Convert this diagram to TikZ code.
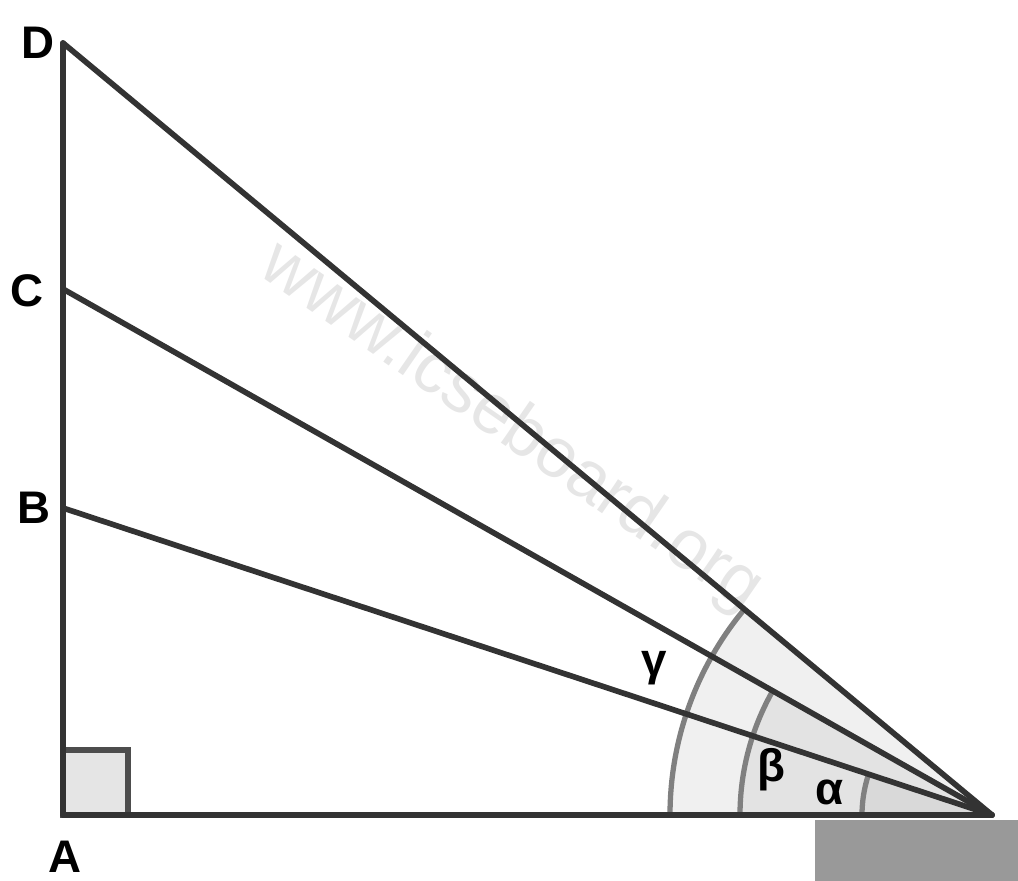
\documentclass[tikz,border=0pt]{standalone}
\usepackage{fontspec}
\setmainfont{Liberation Sans}
\usepackage{tikz}

\definecolor{linegray}{HTML}{333333}
\definecolor{arcgray}{HTML}{808080}
\definecolor{markgray}{HTML}{4D4D4D}
\definecolor{groundgray}{HTML}{999999}
\definecolor{wmgray}{HTML}{E6E6E6}

\begin{document}
\begin{tikzpicture}[
  side/.style={line width=3.2pt, color=linegray, line cap=round},
  arcline/.style={line width=3pt, color=arcgray},
  lbl/.style={font=\bfseries\fontsize{26}{26}\selectfont, inner sep=0pt}
]
\useasboundingbox (0,0) rectangle (20.36,17.62);

% points
\coordinate (A) at (1.26,1.32);
\coordinate (B) at (1.26,7.46);
\coordinate (C) at (1.26,11.84);
\coordinate (D) at (1.26,16.76);
\coordinate (P) at (19.84,1.32);

% watermark
\node[rotate=-34.7, color=wmgray, font=\fontsize{40}{40}\selectfont] (wm) at (10.22,9.06) {www.icseboard.org};

% ground block
\fill[groundgray] (16.3,0) rectangle (20.36,1.22);

% angle sectors
\fill[fill=black!6] (P) -- ++(180:6.44) arc[start angle=180, end angle=140.28, radius=6.44] -- cycle;
\fill[fill=black!11] (P) -- ++(180:5.04) arc[start angle=180, end angle=150.48, radius=5.04] -- cycle;
\fill[fill=black!15] (P) -- ++(180:2.6) arc[start angle=180, end angle=161.71, radius=2.6] -- cycle;
\draw[arcline] (P) ++(180:6.44) arc[start angle=180, end angle=140.28, radius=6.44];
\draw[arcline] (P) ++(180:5.04) arc[start angle=180, end angle=150.48, radius=5.04];
\draw[arcline] (P) ++(180:2.6) arc[start angle=180, end angle=161.71, radius=2.6];

% right angle mark
\draw[line width=3pt, color=markgray, fill=black!10] (A) rectangle ++(1.3,1.3);

% sides
\draw[side] (A) -- (D);
\draw[side] (A) -- (P);
\draw[side] (B) -- (P);
\draw[side] (C) -- (P);
\draw[side] (D) -- (P);

% labels
\node[lbl] (lA) at (1.3,0.48) {A};
\node[lbl] (lB) at (0.68,7.46) {B};
\node[lbl] (lC) at (0.54,11.8) {C};
\node[lbl] (lD) at (0.76,16.76) {D};
\node[lbl] (lg) at (13.08,4.26) {γ};
\node[lbl] (lb) at (15.42,2.22) {β};
\node[lbl] (la) at (16.6,1.78) {α};
\end{tikzpicture}
\end{document}
